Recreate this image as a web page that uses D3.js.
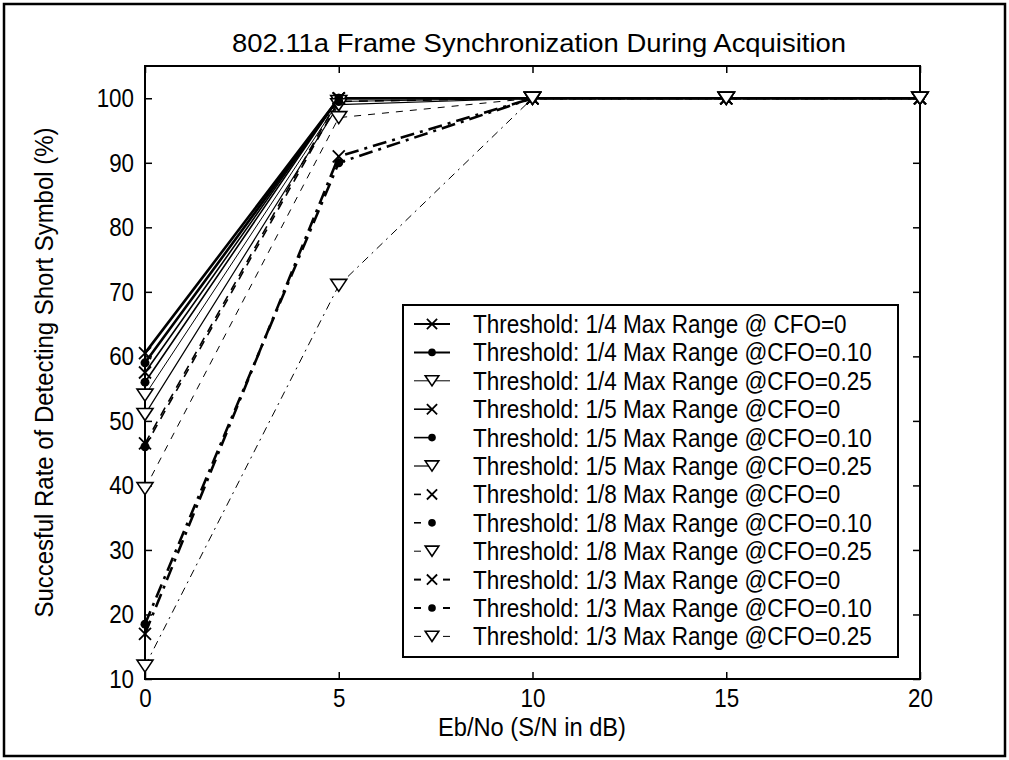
<!DOCTYPE html>
<html>
<head>
<meta charset="utf-8">
<script src="https://cdn.jsdelivr.net/npm/d3@7"></script>
<style>
  html, body { margin: 0; padding: 0; background: #fff; }
  svg { display: block; }
  text { font-family: "Liberation Sans", Arial, Helvetica, sans-serif; fill: #000; }
</style>
</head>
<body>
<svg id="chart" width="1009" height="760"></svg>
<script>
// ---------------- data ----------------
const snrDb = [0, 5, 10, 15, 20];

const labels = [
  "Threshold: 1/4 Max Range @ CFO=0",
  "Threshold: 1/4 Max Range @CFO=0.10",
  "Threshold: 1/4 Max Range @CFO=0.25",
  "Threshold: 1/5 Max Range @CFO=0",
  "Threshold: 1/5 Max Range @CFO=0.10",
  "Threshold: 1/5 Max Range @CFO=0.25",
  "Threshold: 1/8 Max Range @CFO=0",
  "Threshold: 1/8 Max Range @CFO=0.10",
  "Threshold: 1/8 Max Range @CFO=0.25",
  "Threshold: 1/3 Max Range @CFO=0",
  "Threshold: 1/3 Max Range @CFO=0.10",
  "Threshold: 1/3 Max Range @CFO=0.25"
];

const q4Cfo000 = [60.5, 100, 100, 100, 100];
const q4Cfo010 = [59, 100, 100, 100, 100];
const q4Cfo025 = [54, 99.5, 100, 100, 100];
const q5Cfo000 = [57.5, 100, 100, 100, 100];
const q5Cfo010 = [56, 100, 100, 100, 100];
const q5Cfo025 = [51, 99, 100, 100, 100];
const q8Cfo000 = [46.5, 100, 100, 100, 100];
const q8Cfo010 = [46, 99.5, 100, 100, 100];
const q8Cfo025 = [39.5, 97, 100, 100, 100];
const q3Cfo000 = [17, 91, 100, 100, 100];
const q3Cfo010 = [18.5, 90, 100, 100, 100];
const q3Cfo025 = [12, 71, 100, 100, 100];

const seriesValues = [q4Cfo000, q4Cfo010, q4Cfo025, q5Cfo000, q5Cfo010, q5Cfo025,
                      q8Cfo000, q8Cfo010, q8Cfo025, q3Cfo000, q3Cfo010, q3Cfo025];

const xTicks = [0, 5, 10, 15, 20];
const yTicks = [10, 20, 30, 40, 50, 60, 70, 80, 90, 100];

// ---------------- styles ----------------
// legend sample kinds: "full" line both sides, "left" line only left of marker,
// "dashL" short dash left, "dashLR" short dashes both sides
const styles = [
  {marker: "x",   dash: null,          width: 2.6, sample: "full"},
  {marker: "dot", dash: null,          width: 2.6, sample: "full"},
  {marker: "tri", dash: null,          width: 1.0, sample: "full"},
  {marker: "x",   dash: null,          width: 1.6, sample: "left"},
  {marker: "dot", dash: null,          width: 1.6, sample: "left"},
  {marker: "tri", dash: null,          width: 1.2, sample: "left"},
  {marker: "x",   dash: "9,7",         width: 1.6, sample: "dashL"},
  {marker: "dot", dash: "9,7",         width: 1.6, sample: "dashL"},
  {marker: "tri", dash: "7,7",         width: 1.0, sample: "dashL"},
  {marker: "x",   dash: "14,6,3,6",    width: 2.6, sample: "dashLR"},
  {marker: "dot", dash: "14,6,3,6",    width: 2.6, sample: "dashLR"},
  {marker: "tri", dash: "8,5,2,5",     width: 1.0, sample: "dashLR"}
];

const FONT = '"Liberation Sans", Arial, sans-serif';

// condense text horizontally (tall, narrow lettering as in the reference)
function condense(sel, factor) {
  sel.each(function () {
    const w = this.getComputedTextLength();
    if (w > 0) d3.select(this).attr("textLength", w * factor).attr("lengthAdjust", "spacingAndGlyphs");
  });
}

// ---------------- layout ----------------
const svg = d3.select("#chart");
const plot = {left: 145, right: 920, top: 66, bottom: 679};

const x = d3.scaleLinear().domain([0, 20]).range([plot.left, plot.right]);
const y = d3.scaleLinear().domain([10, 105]).range([plot.bottom, plot.top]);

// outer figure border
svg.append("rect").attr("x", 4).attr("y", 4).attr("width", 1001).attr("height", 752)
  .attr("fill", "none").attr("stroke", "#000").attr("stroke-width", 2.5);

// plot box
svg.append("rect").attr("x", plot.left).attr("y", plot.top)
  .attr("width", plot.right - plot.left).attr("height", plot.bottom - plot.top)
  .attr("fill", "#fff").attr("stroke", "#000").attr("stroke-width", 2);

// axes (ticks inward)
const tickLen = 7;
const fontTick = 26;
const axB = svg.append("g").attr("transform", `translate(0,${plot.bottom})`)
  .call(d3.axisBottom(x).tickValues(xTicks).tickSizeInner(-tickLen).tickSizeOuter(0).tickPadding(10));
const axT = svg.append("g").attr("transform", `translate(0,${plot.top})`)
  .call(d3.axisTop(x).tickValues(xTicks).tickSizeInner(-tickLen).tickSizeOuter(0).tickFormat(""));
const axL = svg.append("g").attr("transform", `translate(${plot.left},0)`)
  .call(d3.axisLeft(y).tickValues(yTicks).tickSizeInner(-tickLen).tickSizeOuter(0).tickPadding(11));
const axR = svg.append("g").attr("transform", `translate(${plot.right},0)`)
  .call(d3.axisRight(y).tickValues(yTicks).tickSizeInner(-tickLen).tickSizeOuter(0).tickFormat(""));
[axB, axT, axL, axR].forEach(g => {
  g.select(".domain").remove();
  g.selectAll(".tick line").attr("stroke", "#000").attr("stroke-width", 1.5);
  g.selectAll(".tick text").attr("font-size", fontTick).attr("fill", "#000")
    .style("font-family", FONT);
});
condense(axB.selectAll(".tick text"), 0.86);
condense(axL.selectAll(".tick text"), 0.86);

// ---------------- series ----------------
const line = d3.line().x((d, i) => x(snrDb[i])).y(d => y(d));

function drawMarker(g, type, cx, cy, scale) {
  const s = scale || 1;
  if (type === "x") {
    const r = 6 * s;
    g.append("path").attr("d", `M${cx - r},${cy - r}L${cx + r},${cy + r}M${cx - r},${cy + r}L${cx + r},${cy - r}`)
      .attr("stroke", "#000").attr("stroke-width", 1.8).attr("fill", "none");
  } else if (type === "dot") {
    g.append("circle").attr("cx", cx).attr("cy", cy).attr("r", 4.5 * s).attr("fill", "#000");
  } else {
    const w = 8 * s, h = 12 * s;
    g.append("path").attr("d", `M${cx - w},${cy - h / 2}L${cx + w},${cy - h / 2}L${cx},${cy + h / 2}Z`)
      .attr("stroke", "#000").attr("stroke-width", 1.6).attr("fill", "#fff").attr("stroke-linejoin", "miter");
  }
}

const gSeries = svg.append("g");
seriesValues.forEach((vals, k) => {
  const st = styles[k];
  gSeries.append("path").datum(vals).attr("d", line)
    .attr("fill", "none").attr("stroke", "#000").attr("stroke-width", st.width)
    .attr("stroke-dasharray", st.dash).attr("stroke-linejoin", "round");
});
seriesValues.forEach((vals, k) => {
  const st = styles[k];
  const g = gSeries.append("g");
  vals.forEach((v, i) => drawMarker(g, st.marker, x(snrDb[i]), y(v)));
});

// ---------------- legend ----------------
const leg = {x: 403, y: 305, w: 495, h: 352, row0: 324, rowStep: 28.4, mx: 432};
svg.append("rect").attr("x", leg.x).attr("y", leg.y).attr("width", leg.w).attr("height", leg.h)
  .attr("fill", "#fff").attr("stroke", "#000").attr("stroke-width", 2);
const legTexts = [];
labels.forEach((lab, k) => {
  const st = styles[k];
  const cy = leg.row0 + k * leg.rowStep;
  const g = svg.append("g");
  const lw = Math.min(st.width, 2);
  const seg = (a, b) => g.append("line").attr("x1", a).attr("x2", b).attr("y1", cy).attr("y2", cy)
    .attr("stroke", "#000").attr("stroke-width", lw);
  if (st.sample === "full") seg(414, 450);
  else if (st.sample === "left") seg(414, leg.mx);
  else if (st.sample === "dashL") seg(414, 421);
  else { seg(414, 421); seg(443, 450); }
  drawMarker(g, st.marker, leg.mx, cy, 0.85);
  legTexts.push(g.append("text").attr("x", 473).attr("y", cy).attr("dy", "0.36em")
    .attr("font-size", 25).text(lab).node());
});
condense(d3.selectAll(legTexts), 0.9);

// ---------------- titles ----------------
svg.append("text").attr("x", 539).attr("y", 43).attr("dy", "0.36em")
  .attr("text-anchor", "middle").attr("font-size", 26)
  .attr("textLength", 614).attr("lengthAdjust", "spacingAndGlyphs")
  .text("802.11a Frame Synchronization During Acquisition");

svg.append("text").attr("x", 532).attr("y", 727).attr("dy", "0.36em")
  .attr("text-anchor", "middle").attr("font-size", 26)
  .attr("textLength", 188).attr("lengthAdjust", "spacingAndGlyphs")
  .text("Eb/No (S/N in dB)");

svg.append("text")
  .attr("transform", `translate(44,${(plot.top + plot.bottom) / 2}) rotate(-90)`)
  .attr("dy", "0.36em").attr("text-anchor", "middle").attr("font-size", 26)
  .attr("textLength", 490).attr("lengthAdjust", "spacingAndGlyphs")
  .text("Succesful Rate of Detecting Short Symbol (%)");
</script>
</body>
</html>
